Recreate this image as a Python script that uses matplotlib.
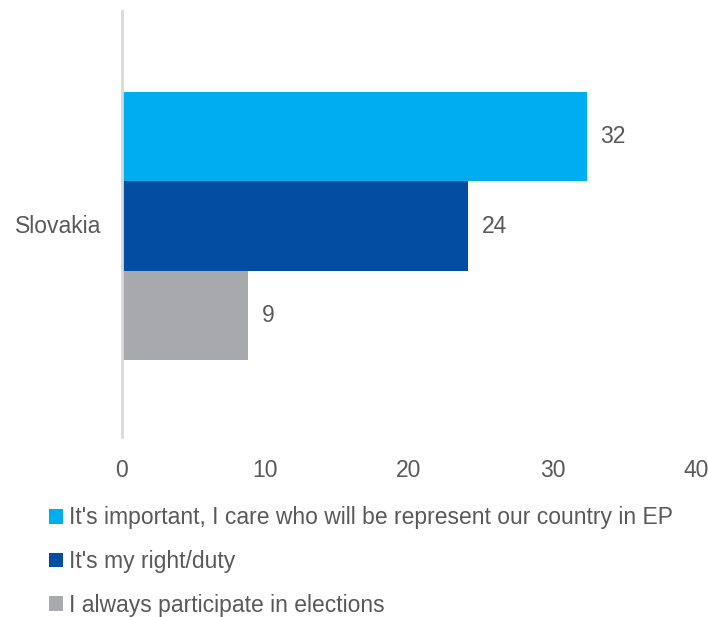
import matplotlib.pyplot as plt
from matplotlib.patches import Patch

plt.rcParams["font.family"] = ["Liberation Sans", "DejaVu Sans"]

country = "Slovakia"
reasons = [
    "It's important, I care who will be represent our country in EP",
    "It's my right/duty",
    "I always participate in elections",
]
shares = [32.4, 24.1, 8.8]
colors = ["#00AEEF", "#034EA2", "#A7A9AC"]
x_ticks = [0, 10, 20, 30, 40]

text_color = "#595959"
fsize = 16.5

fig = plt.figure(figsize=(7.08, 6.17), dpi=100)
ax = fig.add_axes([0.1723, 0.2917, 0.8107, 0.6905])

offsets = [0.205, -0.005, -0.215]
bar_h = 0.21
for off, val, col in zip(offsets, shares, colors):
    ax.barh(off, val, height=bar_h, color=col, linewidth=0)
    ax.text(val + 0.95, off, f"{val:.0f}", va="center", ha="left",
            color=text_color, fontsize=fsize)

ax.set_xlim(0, 40)
ax.set_ylim(-0.5, 0.5)
ax.set_xticks(x_ticks)
ax.set_yticks([0])
ax.set_yticklabels([country])
ax.tick_params(axis="both", length=0, labelsize=fsize, colors=text_color)
ax.tick_params(axis="x", pad=16)
ax.tick_params(axis="y", pad=15)

for side in ["top", "right", "bottom"]:
    ax.spines[side].set_visible(False)
ax.spines["left"].set_color("#D9D9D9")
ax.spines["left"].set_linewidth(2)

handles = [Patch(facecolor=c, edgecolor="none") for c in colors]
fig.legend(handles, reasons, loc="upper left", bbox_to_anchor=(0.056, 0.194),
           frameon=False, fontsize=fsize, labelcolor=text_color,
           handlelength=0.6, handleheight=0.6, handletextpad=0.3,
           labelspacing=0.9, borderaxespad=0)

fig.savefig("out.png", dpi=100)
